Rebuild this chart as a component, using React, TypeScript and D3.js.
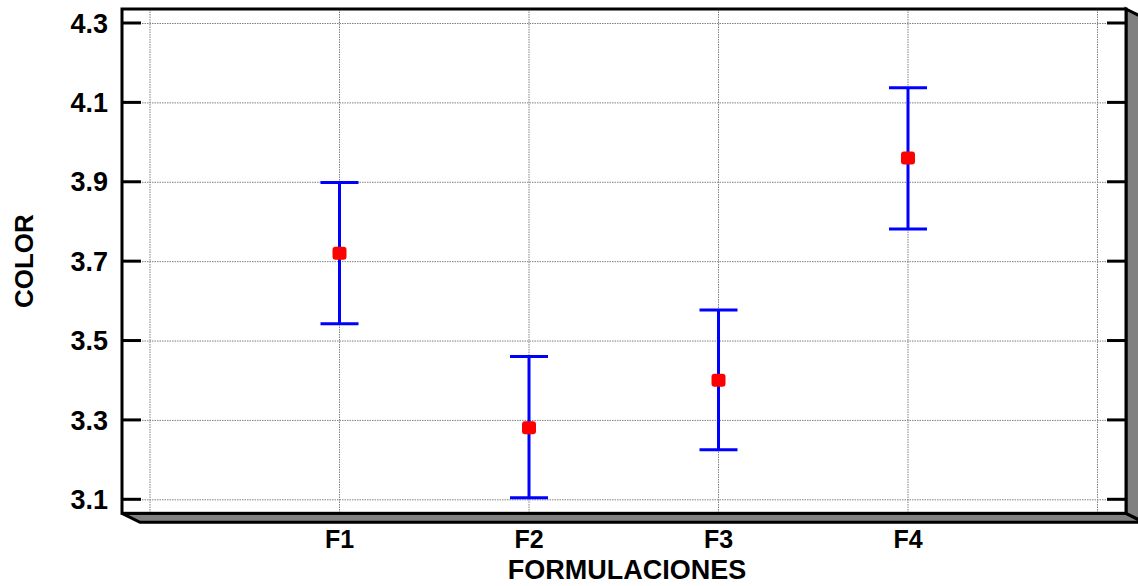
import React, { useEffect, useRef } from 'react';
import * as d3 from 'd3';

const categories = ['F1', 'F2', 'F3', 'F4'];
const means = [3.72, 3.28, 3.4, 3.96];
const lowerLimits = [3.542, 3.104, 3.225, 3.781];
const upperLimits = [3.898, 3.46, 3.577, 4.137];
const yTicks = [3.1, 3.3, 3.5, 3.7, 3.9, 4.1, 4.3];

export default function App() {
  const ref = useRef<SVGSVGElement | null>(null);

  useEffect(() => {
    drawChart();
  }, []);

  function drawChart() {
    const font = '"Liberation Sans", Arial, sans-serif';

    const svg = d3.select(ref.current);
    svg.selectAll('*').remove();

    // x: category positions 1..4, grid at 0..5
    const xScale = d3.scaleLinear().domain([0, categories.length + 1]).range([150, 1097.5]);
    const yScale = d3.scaleLinear().domain([3.1, 4.3]).range([499.3, 23]);

    const left = xScale(0) - 28;
    const right = xScale(categories.length + 1) + 28.5;
    const top = yScale(4.3) - 14;
    const bottom = yScale(3.1) + 14;
    const dx = 18;
    const dy = 9;

    // 3D shadow
    svg.append('polygon')
      .attr('points', [[left, bottom], [left + dx, bottom + dy], [right + dx, bottom + dy], [right, bottom]].join(' '))
      .attr('fill', '#808080')
      .attr('stroke', 'black')
      .attr('stroke-width', 3);
    svg.append('polygon')
      .attr('points', [[right, top], [right + dx, top + dy], [right + dx, bottom + dy], [right, bottom]].join(' '))
      .attr('fill', '#808080')
      .attr('stroke', 'black')
      .attr('stroke-width', 3);

    // plot background
    svg.append('rect')
      .attr('x', left).attr('y', top)
      .attr('width', right - left).attr('height', bottom - top)
      .attr('fill', 'white');

    // grid lines
    const grid = svg.append('g')
      .attr('stroke', '#808080')
      .attr('stroke-width', 1)
      .attr('stroke-dasharray', '1.5,1');
    grid.selectAll('.hgrid')
      .data(yTicks)
      .enter()
      .append('line')
      .attr('x1', left).attr('x2', right)
      .attr('y1', d => yScale(d) + 0.5).attr('y2', d => yScale(d) + 0.5);
    grid.selectAll('.vgrid')
      .data(d3.range(0, categories.length + 2))
      .enter()
      .append('line')
      .attr('x1', d => xScale(d)).attr('x2', d => xScale(d))
      .attr('y1', top).attr('y2', bottom);

    // frame
    svg.append('rect')
      .attr('x', left).attr('y', top)
      .attr('width', right - left).attr('height', bottom - top)
      .attr('fill', 'none')
      .attr('stroke', 'black')
      .attr('stroke-width', 3);

    // y ticks (both sides, inward)
    const ticks = svg.append('g').attr('stroke', 'black').attr('stroke-width', 3);
    yTicks.forEach(t => {
      ticks.append('line').attr('x1', left).attr('x2', left + 19).attr('y1', yScale(t)).attr('y2', yScale(t));
      ticks.append('line').attr('x1', right - 19).attr('x2', right).attr('y1', yScale(t)).attr('y2', yScale(t));
    });

    svg.append('g')
      .selectAll('text')
      .data(yTicks)
      .enter()
      .append('text')
      .attr('x', left - 14)
      .attr('y', d => yScale(d))
      .attr('dy', '0.36em')
      .attr('text-anchor', 'end')
      .style('font-family', font)
      .style('font-weight', 'bold')
      .style('font-size', '27px')
      .text(d => d.toFixed(1));

    // x labels
    svg.append('g')
      .selectAll('text')
      .data(categories)
      .enter()
      .append('text')
      .attr('x', (d, i) => xScale(i + 1))
      .attr('y', 548)
      .attr('text-anchor', 'middle')
      .style('font-family', font)
      .style('font-weight', 'bold')
      .style('font-size', '25px')
      .text(d => d);

    // axis titles
    svg.append('text')
      .attr('x', (left + right) / 2 + 3)
      .attr('y', 579)
      .attr('text-anchor', 'middle')
      .style('font-family', font)
      .style('font-weight', 'bold')
      .style('font-size', '27px')
      .text('FORMULACIONES');

    svg.append('text')
      .attr('transform', `translate(33, ${(top + bottom) / 2}) rotate(-90)`)
      .attr('text-anchor', 'middle')
      .style('font-family', font)
      .style('font-weight', 'bold')
      .style('font-size', '26px')
      .text('COLOR');

    // error bars
    const bars = svg.append('g').attr('stroke', '#0000ff').attr('stroke-width', 3);
    categories.forEach((c, i) => {
      const cx = xScale(i + 1);
      bars.append('line').attr('x1', cx).attr('x2', cx)
        .attr('y1', yScale(upperLimits[i])).attr('y2', yScale(lowerLimits[i]));
      bars.append('line').attr('x1', cx - 19).attr('x2', cx + 19)
        .attr('y1', yScale(upperLimits[i])).attr('y2', yScale(upperLimits[i]));
      bars.append('line').attr('x1', cx - 19).attr('x2', cx + 19)
        .attr('y1', yScale(lowerLimits[i])).attr('y2', yScale(lowerLimits[i]));
    });

    // means
    svg.append('g')
      .selectAll('rect')
      .data(means)
      .enter()
      .append('rect')
      .attr('x', (d, i) => xScale(i + 1) - 7)
      .attr('y', d => yScale(d) - 6.5)
      .attr('width', 14)
      .attr('height', 13)
      .attr('rx', 3)
      .attr('fill', '#ff0000');
  }

  return (
    <svg
      ref={ref}
      width={1138}
      height={586}
      style={{ position: 'absolute', left: 0, top: 0, background: 'white' }}
    />
  );
}
